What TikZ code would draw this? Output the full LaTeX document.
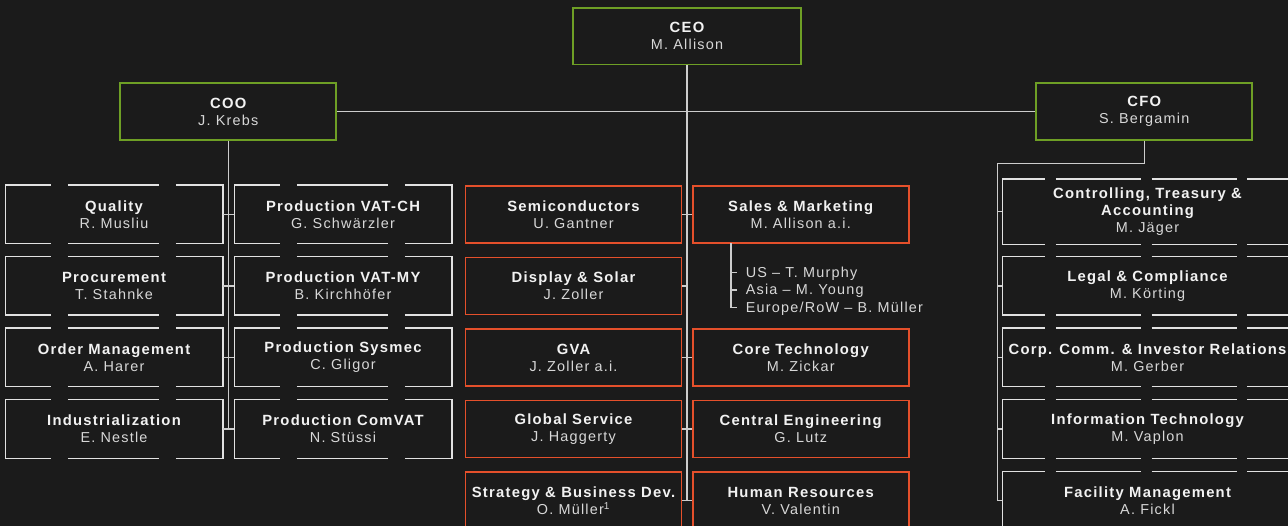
\documentclass[tikz,border=0pt]{standalone}
\usepackage{fontspec}
\newfontfamily\orgfont{Liberation Sans}[LetterSpace=8.5]
\definecolor{bgdark}{HTML}{1B1B1B}
\definecolor{execgreen}{HTML}{6E9F25}
\definecolor{divred}{HTML}{E5502B}
\definecolor{staffline}{HTML}{E2E2E2}
\definecolor{wiregrey}{HTML}{CDCDCD}
\definecolor{titletext}{HTML}{F2F2F2}
\definecolor{nametext}{HTML}{D8D8D8}
\newcommand{\namefont}{\fontsize{14.4}{17}\selectfont\color{nametext}}
\newcommand{\orgunit}[2]{{\bfseries #1}\\{\namefont #2}}

\begin{document}
\begin{tikzpicture}[x=1pt,y=-1pt,line width=1.5pt,node distance=71.5pt,
	box/.style={font=\orgfont\fontsize{14.8}{17}\selectfont,text=titletext,align=center,
		inner sep=0pt,minimum width=216pt,minimum height=57pt,fill=bgdark},
	exec node/.style={box,draw=execgreen,line width=1.8pt},
	div node/.style={box,draw=divred,line width=1.8pt},
	staff node/.style={box},
	wide staff/.style={box,minimum width=289pt},
	sub node/.style={font=\orgfont\namefont,anchor=west,inner sep=0pt,text height=10pt,text depth=0pt},
	wire/.style={color=wiregrey,line width=1.2pt},
	side line/.style={draw=staffline,line cap=rect},
	gap left/.style={draw=staffline,dash pattern=on 91.5pt off 16.5pt,dash phase=45.5pt},
	gap right/.style={draw=staffline,dash pattern=on 85pt off 10.7pt,dash phase=42pt}]
	
	\useasboundingbox (0,0) rectangle (1288,526);
	\fill[bgdark] (0,0) rectangle (1288,526);
	\clip (0,0) rectangle (1288,526);
	
	\node[exec node,minimum width=228pt,minimum height=56.5pt] (ceo) at (687,36.3) {\orgunit{CEO}{M. Allison}};
	\node[exec node,minimum height=56.5pt] (coo) at (228.3,111.5) {\orgunit{COO}{J. Krebs}};
	\node[exec node,minimum height=56.5pt] (cfo) at (1144.2,111.5) {\orgunit{CFO}{S. Bergamin}};
	
	\node[staff node] (qual) at (114,214.5) {\orgunit{Quality}{R. Musliu}};
	\node[staff node] (proc) [below of=qual] {\orgunit{Procurement}{T. Stahnke}};
	\node[staff node] (ordm) [below of=proc] {\orgunit{Order Management}{A. Harer}};
	\node[staff node] (indu) [below of=ordm] {\orgunit{Industrialization}{E. Nestle}};
	\node[staff node] (pvch) at (343,214.5) {\orgunit{Production VAT-CH}{G. Schwärzler}};
	\node[staff node] (pvmy) [below of=pvch] {\orgunit{Production VAT-MY}{B. Kirchhöfer}};
	\node[staff node] (psys) [below of=pvmy] {\orgunit{Production Sysmec}{C. Gligor}};
	\node[staff node] (pcom) [below of=psys] {\orgunit{Production ComVAT}{N. Stüssi}};
	
	\node[div node] (semi) at (573.5,214.5) {\orgunit{Semiconductors}{U. Gantner}};
	\node[div node] (disp) [below of=semi] {\orgunit{Display \& Solar}{J. Zoller}};
	\node[div node] (gva) [below of=disp] {\orgunit{GVA}{J. Zoller a.i.}};
	\node[div node] (gsrv) [below of=gva] {\orgunit{Global Service}{J. Haggerty}};
	\node[div node] (sbd) [below of=gsrv] {\orgunit{Strategy \& Business Dev.}{O. Müller\textsuperscript{1}}};
	\node[div node] (sales) at (800.7,214.5) {\orgunit{Sales \& Marketing}{M. Allison a.i.}};
	\node[div node] (ctec) at (800.7,357.5) {\orgunit{Core Technology}{M. Zickar}};
	\node[div node] (ceng) [below of=ctec] {\orgunit{Central Engineering}{G. Lutz}};
	\node[div node] (hr) [below of=ceng] {\orgunit{Human Resources}{V. Valentin}};
	
	\node[sub node] (us) at (745,272.7) {US – T. Murphy};
	\node[sub node] (asia) at (745,290) {Asia – M. Young};
	\node[sub node] (eu) at (745,307.3) {Europe/RoW – B. Müller};
	
	\node[wide staff,minimum height=63.7pt] (ctrl) at (1147.5,211.8)
		{{\bfseries Controlling, Treasury \&}\\{\bfseries Accounting}\\{\namefont M. Jäger}};
	\node[wide staff] (legal) at (1147.5,286) {\orgunit{Legal \& Compliance}{M. Körting}};
	\node[wide staff] (corp) [below of=legal] {\orgunit{Corp. Comm. \& Investor Relations}{M. Gerber}};
	\node[wide staff] (info) [below of=corp] {\orgunit{Information Technology}{M. Vaplon}};
	\node[wide staff] (fac) [below of=info] {\orgunit{Facility Management}{A. Fickl}};
	
	\foreach \n in {qual,proc,ordm,indu,pvch,pvmy,psys,pcom}{
		\draw[gap left] (\n.north west) -- (\n.north east) (\n.south west) -- (\n.south east);
		\draw[side line] (\n.north west) -- (\n.south west) (\n.north east) -- (\n.south east);
	}
	\foreach \n in {ctrl,legal,corp,info,fac}{
		\draw[gap right] (\n.north west) -- (\n.north east) (\n.south west) -- (\n.south east);
		\draw[side line] (\n.north west) -- (\n.south west) (\n.north east) -- (\n.south east);
	}
	
	\coordinate (cfo bend) at (997.7,163.3);
	\coordinate (sales sub) at (731,243.5);
	
	\draw[wire] (coo.east) -- (cfo.west);
	\draw[wire] (ceo.south) -- (ceo.south |- sbd.east);
	\draw[wire] (coo.south) -- (coo.south |- indu.east);
	\draw[wire] (cfo.south) |- (cfo bend) -- (cfo bend |- fac.west);
	\draw[wire] (sales sub) |- ([xshift=-8pt]eu.west);
	
	\path[wire]
	(qual) edge (pvch)
	(proc) edge (pvmy)
	(ordm) edge (psys)
	(indu) edge (pcom)
	(semi) edge (sales)
	(disp.east) edge (disp.east -| ceo.south)
	(gva) edge (ctec)
	(gsrv) edge (ceng)
	(sbd) edge (hr)
	(ctrl.west -| cfo bend) edge (ctrl.west)
	(legal.west -| cfo bend) edge (legal.west)
	(corp.west -| cfo bend) edge (corp.west)
	(info.west -| cfo bend) edge (info.west)
	(fac.west -| cfo bend) edge (fac.west)
	(us.west -| sales sub) edge ([xshift=-8pt]us.west)
	(asia.west -| sales sub) edge ([xshift=-8pt]asia.west)
	;
\end{tikzpicture}
\end{document}
